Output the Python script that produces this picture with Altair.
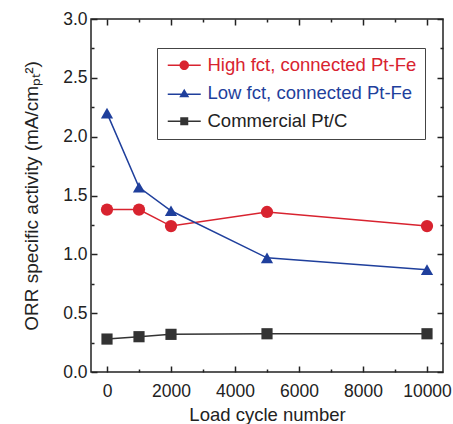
import altair as alt
import pandas as pd

cycles = [0, 1000, 2000, 5000, 10000]
high_fct = [1.38, 1.38, 1.24, 1.36, 1.24]
low_fct = [2.20, 1.57, 1.37, 0.97, 0.87]
commercial = [0.28, 0.30, 0.32, 0.325, 0.325]

names = ["High fct, connected Pt-Fe", "Low fct, connected Pt-Fe", "Commercial Pt/C"]
colors = ["#d8232f", "#1f3f9c", "#333333"]
shapes = ["circle", "triangle-up", "square"]
legend_paths = [
    "M-3.3,-0.13L3.3,-0.13L3.3,0.13L-3.3,0.13ZM0,-0.95A0.95,0.95 0 1,1 0,0.95A0.95,0.95 0 1,1 0,-0.95Z",
    "M-3.3,0.07L3.3,0.07L3.3,0.33L-3.3,0.33ZM0,-0.9L1,0.8L-1,0.8Z",
    "M-3.3,-0.13L3.3,-0.13L3.3,0.13L-3.3,0.13ZM-0.8,-0.8L0.8,-0.8L0.8,0.8L-0.8,0.8Z",
]

rows = []
for name, vals in zip(names, [high_fct, low_fct, commercial]):
    for c, v in zip(cycles, vals):
        rows.append({"cycle": c, "activity": v, "series": name})
df = pd.DataFrame(rows)

xdom = [-500, 10500]
ydom = [0, 3]
font = "Liberation Sans"
ink = "#222222"

xmaj = [0, 2000, 4000, 6000, 8000, 10000]
xmin = [1000, 3000, 5000, 7000, 9000]
ymaj = [0, 0.5, 1.0, 1.5, 2.0, 2.5, 3.0]
ymin = [0.25, 0.75, 1.25, 1.75, 2.25, 2.75]


def xs(axis):
    return alt.X("cycle:Q", scale=alt.Scale(domain=xdom, nice=False, zero=False), axis=axis)


def ys(axis):
    return alt.Y("activity:Q", scale=alt.Scale(domain=ydom, nice=False, zero=False), axis=axis)


main_x = alt.Axis(values=xmaj, format="d", orient="bottom", title="Load cycle number",
                  grid=False, domain=False, tickSize=alt.ExprRef("-6"), labelPadding=16,
                  tickColor=ink, tickWidth=1.5, labelFontSize=17.5, titleFontSize=18.5,
                  labelFont=font, titleFont=font, labelColor=ink, titleColor=ink,
                  titleFontWeight="normal", titlePadding=6, labelFlush=False, zindex=2)
main_y = alt.Axis(values=ymaj, format=".1f", orient="left",
                  title="ORR specific activity (mA/cmₚₜ²)",
                  grid=False, domain=False, tickSize=alt.ExprRef("-6"), labelPadding=10,
                  tickColor=ink, tickWidth=1.5, labelFontSize=17.5, titleFontSize=19,
                  labelFont=font, titleFont=font, labelColor=ink, titleColor=ink,
                  titleFontWeight="normal", titlePadding=21, zindex=2)


def tick_axis(vals, orient, size):
    return alt.Axis(values=vals, orient=orient, labels=False, title=None, grid=False,
                    domain=False, tickSize=alt.ExprRef(str(-size)), tickColor=ink,
                    tickWidth=1.5, zindex=2)


base = alt.Chart(df)

legend = alt.Legend(title=None, orient="none", legendX=66, legendY=29,
                    strokeColor="#444", padding=8, fillColor="white",
                    labelFontSize=18.5, labelFont=font, symbolSize=100, symbolOffset=10,
                    labelOffset=14, rowPadding=9, symbolOpacity=1, labelLimit=400,
                    labelColor=alt.ExprRef("datum.label == 'High fct, connected Pt-Fe' ? '#d8232f' : (datum.label == 'Low fct, connected Pt-Fe' ? '#1f3f9c' : '#222222')"))

carrier = base.mark_point(filled=True, opacity=0).encode(
    x=xs(main_x), y=ys(main_y),
    color=alt.Color("series:N", scale=alt.Scale(domain=names, range=colors), legend=legend),
    shape=alt.Shape("series:N", scale=alt.Scale(domain=names, range=legend_paths), legend=legend),
)

layers = [carrier]
for name, col, shp, sz in zip(names, colors, shapes, [150, 150, 125]):
    sub = base.transform_filter(alt.datum.series == name)
    layers.append(sub.mark_line(color=col, strokeWidth=1.5).encode(x=xs(None), y=ys(None)))
    layers.append(sub.mark_point(color=col, shape=shp, filled=True, opacity=1, size=sz)
                  .encode(x=xs(None), y=ys(None)))

layers += [
    base.mark_point(opacity=0).encode(x=xs(tick_axis(xmaj, "top", 6)), y=ys(tick_axis(ymaj, "right", 6))),
    base.mark_point(opacity=0).encode(x=xs(tick_axis(xmin, "bottom", 3)), y=ys(tick_axis(ymin, "left", 3))),
    base.mark_point(opacity=0).encode(x=xs(tick_axis(xmin, "top", 3)), y=ys(tick_axis(ymin, "right", 3))),
]

chart = alt.layer(*layers).resolve_axis(x="independent", y="independent").properties(
    width=352, height=353,
    autosize=alt.AutoSizeParams(type="none"),
    padding={"left": 91, "top": 19, "right": 10, "bottom": 52},
    background="white",
).configure_view(stroke=ink, strokeWidth=1.5).configure_legend(strokeWidth=1)

chart.save("out.html", embed_options={"renderer": "svg", "actions": False})
